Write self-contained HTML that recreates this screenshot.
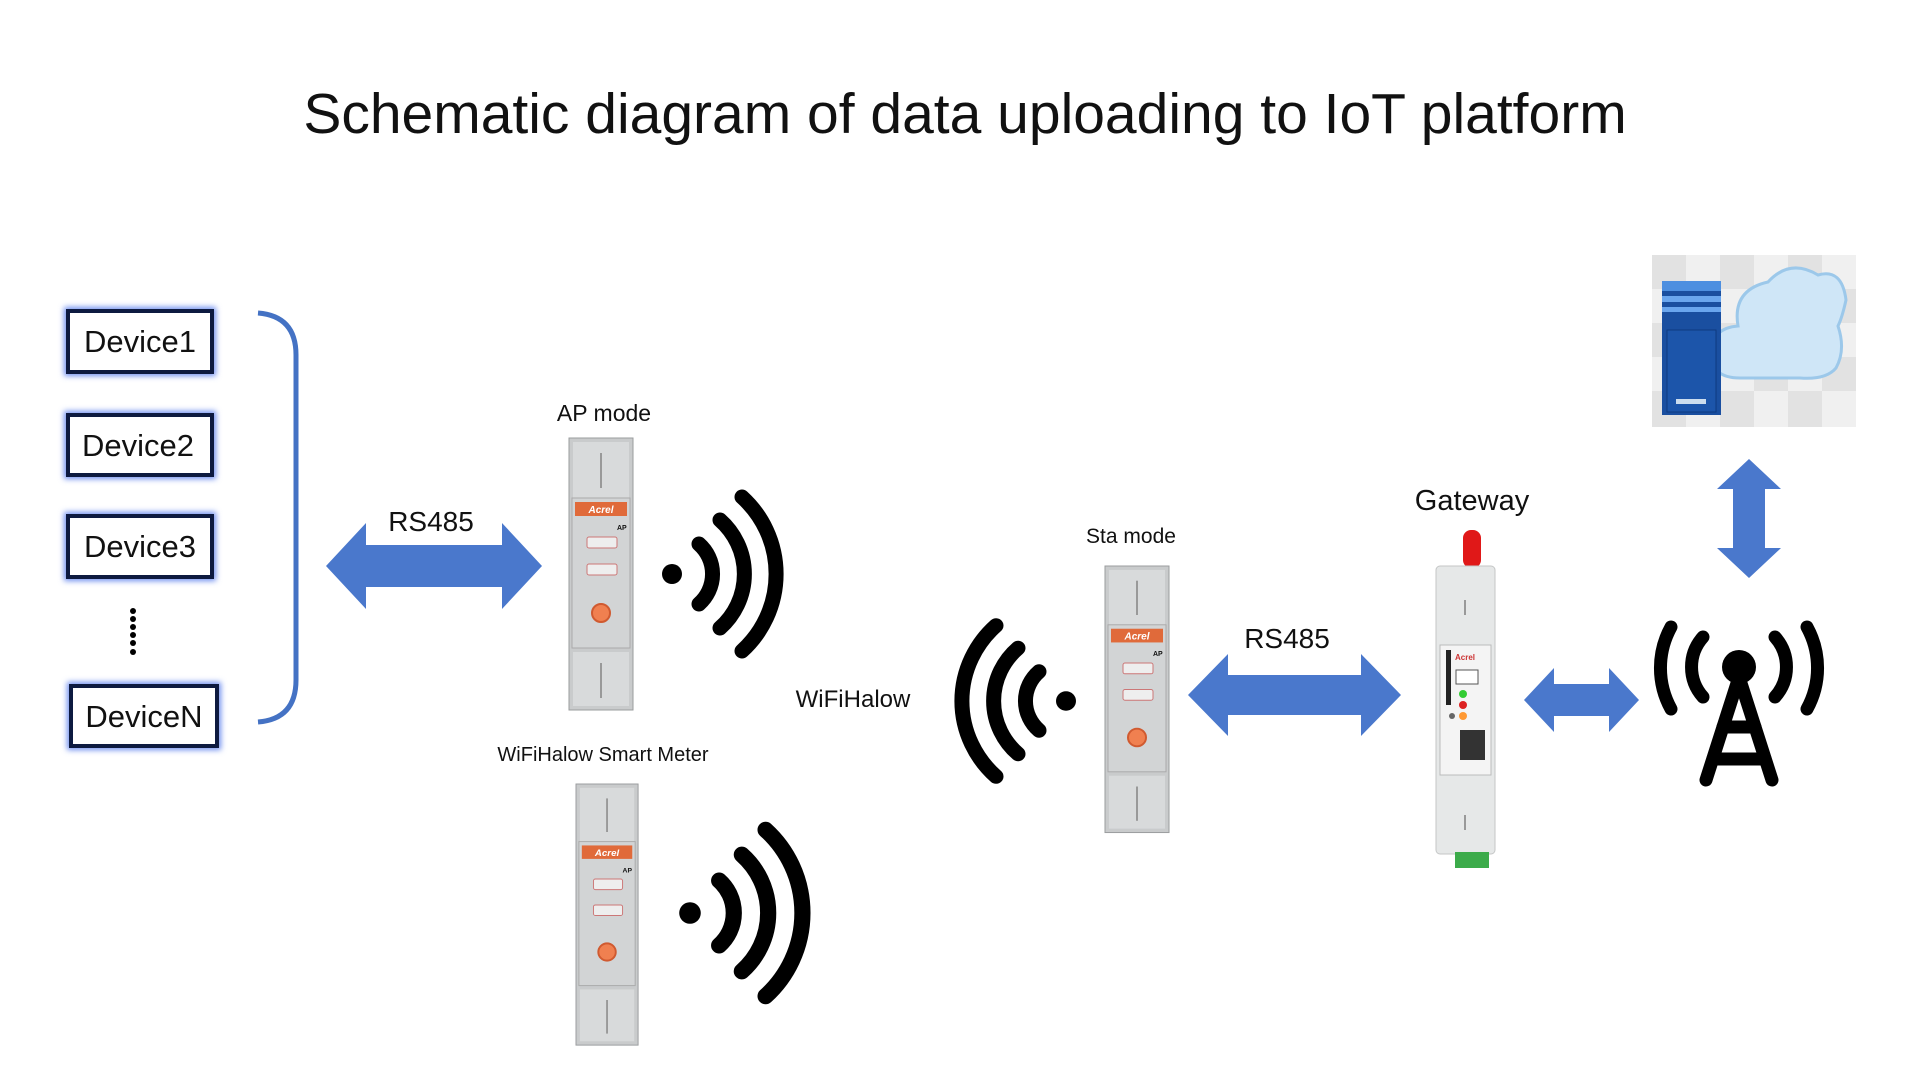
<!DOCTYPE html>
<html><head><meta charset="utf-8"><style>
html,body{margin:0;padding:0;background:#fff;width:1920px;height:1080px;overflow:hidden}
svg text{font-family:"Liberation Sans",sans-serif;fill:#111}
</style></head><body>
<svg width="1920" height="1080" viewBox="0 0 1920 1080" xmlns="http://www.w3.org/2000/svg">
<defs>
<symbol id="wifi" overflow="visible">
<circle cx="0" cy="0" r="10" fill="#000"/>
<g fill="none" stroke="#000" stroke-width="15" stroke-linecap="round">
<path d="M27,-30 A40,40 0 0 1 27,30"/>
<path d="M48,-54 A72,72 0 0 1 48,54"/>
<path d="M70,-77 A104,104 0 0 1 70,77"/>
</g>
</symbol>
<filter id="glow" x="-20%" y="-20%" width="140%" height="140%"><feGaussianBlur stdDeviation="3"/></filter>
<symbol id="meter" overflow="visible">
<rect x="0" y="0" width="64" height="272" fill="#c9cbcc" stroke="#9a9c9e"/>
<rect x="4" y="4" width="56" height="56" fill="#d8dadb"/>
<line x1="32" y1="15" x2="32" y2="50" stroke="#999" stroke-width="2"/>
<rect x="3" y="60" width="58" height="150" fill="#d2d4d5" stroke="#aaa"/>
<rect x="6" y="64" width="52" height="14" fill="#e06a3a"/>
<text x="32" y="75" font-size="10" font-style="italic" font-weight="bold" text-anchor="middle" style="fill:#fff">Acrel</text>
<text x="48" y="92" font-size="7" font-weight="bold">AP</text>
<rect x="18" y="99" width="30" height="11" fill="#eee" stroke="#c77" rx="2"/>
<rect x="18" y="126" width="30" height="11" fill="#eee" stroke="#c77" rx="2"/>
<circle cx="32" cy="175" r="9" fill="#f08050" stroke="#d05a30" stroke-width="2"/>
<rect x="4" y="214" width="56" height="54" fill="#d8dadb"/>
<line x1="32" y1="225" x2="32" y2="260" stroke="#999" stroke-width="2"/>
</symbol>
</defs>

<text x="965" y="133" font-size="57" text-anchor="middle">Schematic diagram of data uploading to IoT platform</text>

<g font-size="31">
<g>
<rect x="68" y="311" width="144" height="61" fill="none" stroke="#6f8ff0" stroke-width="8" filter="url(#glow)"/>
<rect x="68" y="311" width="144" height="61" fill="#fff" stroke="#0d1a40" stroke-width="4"/>
<text x="140" y="352" text-anchor="middle">Device1</text>
</g>
<g>
<rect x="68" y="415" width="144" height="60" fill="none" stroke="#6f8ff0" stroke-width="8" filter="url(#glow)"/>
<rect x="68" y="415" width="144" height="60" fill="#fff" stroke="#0d1a40" stroke-width="4"/>
<text x="138" y="456" text-anchor="middle">Device2</text>
</g>
<g>
<rect x="68" y="516" width="144" height="61" fill="none" stroke="#6f8ff0" stroke-width="8" filter="url(#glow)"/>
<rect x="68" y="516" width="144" height="61" fill="#fff" stroke="#0d1a40" stroke-width="4"/>
<text x="140" y="557" text-anchor="middle">Device3</text>
</g>
<g>
<rect x="71" y="686" width="146" height="60" fill="none" stroke="#6f8ff0" stroke-width="8" filter="url(#glow)"/>
<rect x="71" y="686" width="146" height="60" fill="#fff" stroke="#0d1a40" stroke-width="4"/>
<text x="144" y="727" text-anchor="middle">DeviceN</text>
</g>
</g>
<g fill="#000">
<circle cx="133" cy="611" r="3"/><circle cx="133" cy="619" r="3"/><circle cx="133" cy="627" r="3"/><circle cx="133" cy="635" r="3"/><circle cx="133" cy="643" r="3"/><circle cx="133" cy="652" r="3"/>
</g>
<path d="M258,313 Q296,316 296,355 L296,680 Q296,719 258,722" fill="none" stroke="#4472c4" stroke-width="5"/>

<g fill="#4a78cc">
<polygon points="326,566 366,523 366,545 502,545 502,523 542,566 502,609 502,587 366,587 366,609"/>
<polygon points="1188,695 1228,654 1228,675 1361,675 1361,654 1401,695 1361,736 1361,715 1228,715 1228,736"/>
<polygon points="1524,700 1554,668 1554,684 1609,684 1609,668 1639,700 1609,732 1609,716 1554,716 1554,732"/>
<polygon points="1749,459 1781,489 1765,489 1765,548 1781,548 1749,578 1717,548 1733,548 1733,489 1717,489"/>
</g>
<text x="431" y="531" font-size="28" text-anchor="middle">RS485</text>
<text x="1287" y="648" font-size="28" text-anchor="middle">RS485</text>

<text x="604" y="421" font-size="23" text-anchor="middle">AP mode</text>
<use href="#meter" x="569" y="438"/>
<text x="603" y="761" font-size="20" text-anchor="middle">WiFiHalow Smart Meter</text>
<g transform="translate(576,784) scale(0.97,0.96)"><use href="#meter"/></g>
<text x="1131" y="543" font-size="21" text-anchor="middle">Sta mode</text>
<g transform="translate(1105,566) scale(1,0.98)"><use href="#meter"/></g>
<text x="853" y="707" font-size="24" text-anchor="middle">WiFiHalow</text>

<use href="#wifi" transform="translate(672,574)"/>
<use href="#wifi" transform="translate(690,913) scale(1.08)"/>
<use href="#wifi" transform="translate(1066,701) scale(-1,0.98)"/>

<text x="1472" y="510" font-size="29" text-anchor="middle">Gateway</text>
<rect x="1463" y="530" width="18" height="38" rx="8" fill="#e01818"/>
<rect x="1436" y="566" width="59" height="288" rx="4" fill="#e6e8e8" stroke="#c4c6c6"/>
<rect x="1440" y="645" width="51" height="130" fill="#f4f4f4" stroke="#bbb"/>
<rect x="1446" y="650" width="5" height="55" fill="#222"/>
<text x="1455" y="660" font-size="8" style="fill:#c33" font-weight="bold">Acrel</text>
<rect x="1456" y="670" width="22" height="14" fill="#fff" stroke="#555"/>
<circle cx="1463" cy="694" r="4" fill="#3c3"/><circle cx="1463" cy="705" r="4" fill="#d22"/><circle cx="1463" cy="716" r="4" fill="#f93"/>
<circle cx="1452" cy="716" r="3" fill="#666"/>
<rect x="1460" y="730" width="25" height="30" fill="#333"/>
<line x1="1465" y1="600" x2="1465" y2="615" stroke="#999" stroke-width="2"/>
<line x1="1465" y1="815" x2="1465" y2="830" stroke="#999" stroke-width="2"/>
<rect x="1455" y="852" width="34" height="16" fill="#3cab4a"/>

<g transform="translate(-9,-3)">
<g fill="none" stroke="#000" stroke-width="13" stroke-linecap="round">
<path d="M1712,640 A45,45 0 0 0 1712,700"/>
<path d="M1784,640 A45,45 0 0 1 1784,700"/>
<path d="M1680,630 A85,85 0 0 0 1680,712"/>
<path d="M1816,630 A85,85 0 0 1 1816,712"/>
</g>
<circle cx="1748" cy="670" r="17" fill="#000"/>
<g stroke="#000" stroke-width="13" stroke-linecap="round">
<line x1="1748" y1="680" x2="1715" y2="783"/>
<line x1="1748" y1="680" x2="1781" y2="783"/>
<line x1="1732" y1="730" x2="1764" y2="730"/>
<line x1="1722" y1="762" x2="1774" y2="762"/>
</g>
</g>

<rect x="1652" y="255" width="204" height="172" fill="#f0f0f0"/>
<g fill="#e2e2e2">
<rect x="1652" y="255" width="34" height="34"/><rect x="1720" y="255" width="34" height="34"/><rect x="1788" y="255" width="34" height="34"/>
<rect x="1686" y="289" width="34" height="34"/><rect x="1754" y="289" width="34" height="34"/><rect x="1822" y="289" width="34" height="34"/>
<rect x="1652" y="323" width="34" height="34"/><rect x="1720" y="323" width="34" height="34"/><rect x="1788" y="323" width="34" height="34"/>
<rect x="1686" y="357" width="34" height="34"/><rect x="1754" y="357" width="34" height="34"/><rect x="1822" y="357" width="34" height="34"/>
<rect x="1652" y="391" width="34" height="36"/><rect x="1720" y="391" width="34" height="36"/><rect x="1788" y="391" width="34" height="36"/>
</g>
<path d="M1740,378 Q1710,378 1712,352 Q1712,328 1738,326 Q1732,290 1768,282 Q1790,258 1818,275 Q1842,268 1846,300 Q1842,318 1838,326 Q1846,350 1836,368 Q1826,380 1800,378 Z" fill="#cfe6f7" stroke="#9cc8ea" stroke-width="3"/>
<rect x="1662" y="281" width="59" height="134" fill="#1a4fa0"/>
<rect x="1662" y="281" width="59" height="10" fill="#4d8fe0"/>
<rect x="1662" y="296" width="59" height="6" fill="#6aa6ee"/>
<rect x="1662" y="307" width="59" height="5" fill="#6aa6ee"/>
<rect x="1667" y="330" width="49" height="82" fill="#1c55aa" stroke="#0e3a80"/>
<rect x="1676" y="399" width="30" height="5" fill="#cde"/>
</svg>
</body></html>
